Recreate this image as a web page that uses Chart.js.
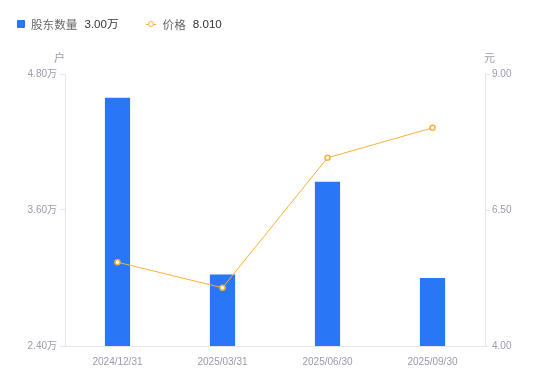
<!DOCTYPE html>
<html lang="zh">
<head>
    <meta charset="UTF-8">
    <title>股东数量与价格</title>
    <script src="https://cdn.jsdelivr.net/npm/chart.js"></script>
    <style>
        body {
            margin: 0;
            background: #fff;
            font-family: 'Liberation Sans', 'Noto Sans CJK SC', sans-serif;
        }

        .wrap {
            position: relative;
            width: 550px;
            height: 381px;
        }

        .legend {
            position: absolute;
            top: 16px;
            left: 17px;
            display: flex;
            align-items: center;
            font-size: 11.6px;
            line-height: 16px;
        }

        .legend .item {
            display: flex;
            align-items: center;
            margin-right: 27px;
        }

        .legend .name {
            color: #666;
            font-family: 'Noto Sans CJK SC', sans-serif;
        }

        .legend .val {
            color: #333;
            margin-left: 7px;
        }

        .sq {
            width: 8px;
            height: 8px;
            background: #2777f6;
            border-radius: 1px;
            margin-right: 6px;
        }

        .ln {
            position: relative;
            width: 10px;
            height: 1px;
            background: #f7b13a;
            margin-right: 7px;
        }

        .ln::after {
            content: "";
            position: absolute;
            left: 2px;
            top: -3px;
            width: 4px;
            height: 4px;
            border: 1.5px solid #f7b13a;
            border-radius: 50%;
            background: #fff;
        }

        .unit {
            position: absolute;
            top: 49px;
            font-size: 11px;
            color: #999aab;
            font-family: 'Noto Sans CJK SC', sans-serif;
        }

        canvas {
            position: absolute;
            top: 0;
            left: 0;
        }
    </style>
</head>
<body>
    <div class="wrap">
        <canvas id="chart" width="550" height="381"></canvas>
        <div class="legend">
            <div class="item"><span class="sq"></span><span class="name">股东数量</span><span class="val" id="v1"></span></div>
            <div class="item"><span class="ln"></span><span class="name">价格</span><span class="val" id="v2"></span></div>
        </div>
        <div class="unit" style="left:54px">户</div>
        <div class="unit" style="left:484px">元</div>
    </div>

    <script>
        const dates = ["2024/12/31", "2025/03/31", "2025/06/30", "2025/09/30"];
        const holders = [4.59, 3.03, 3.85, 3.00];   // 万户
        const prices = [5.54, 5.07, 7.46, 8.01];    // 元
        const holderTicks = [2.4, 4.8, 1.2];        // min, max, step
        const priceTicks = [4, 9, 2.5];

        const tickColor = '#999aab';
        const lineColor = '#e6e6ea';

        document.getElementById('v1').textContent = holders[holders.length - 1].toFixed(2) + '万';
        document.getElementById('v2').textContent = prices[prices.length - 1].toFixed(3);

        new Chart(document.getElementById('chart'), {
            data: {
                labels: dates,
                datasets: [
                    {
                        type: 'line',
                        label: '价格',
                        data: prices,
                        yAxisID: 'y1',
                        borderColor: '#f7b13a',
                        borderWidth: 1,
                        pointRadius: 2.5,
                        pointBorderWidth: 1.5,
                        pointBackgroundColor: '#fff',
                        pointBorderColor: '#f7b13a',
                        tension: 0,
                        order: 1
                    },
                    {
                        type: 'bar',
                        label: '股东数量',
                        data: holders,
                        yAxisID: 'y',
                        backgroundColor: '#2777f6',
                        barPercentage: 0.24,
                        categoryPercentage: 1,
                        order: 2
                    }
                ]
            },
            options: {
                responsive: false,
                animation: false,
                layout: { padding: { top: 74, left: 0, right: 0, bottom: 0 } },
                plugins: {
                    legend: { display: false },
                    tooltip: { enabled: false }
                },
                scales: {
                    x: {
                        grid: { display: false },
                        border: { color: lineColor },
                        ticks: {
                            color: tickColor,
                            font: { size: 10, family: 'Liberation Sans' },
                            padding: 2,
                            maxRotation: 0
                        },
                        afterFit: s => { s.height = 35; }
                    },
                    y: {
                        position: 'left',
                        min: holderTicks[0],
                        max: holderTicks[1],
                        grid: { drawOnChartArea: false, tickLength: 5, color: lineColor },
                        border: { color: lineColor },
                        ticks: {
                            stepSize: holderTicks[2],
                            color: tickColor,
                            font: { size: 10, family: "'Liberation Sans', 'Noto Sans CJK SC'" },
                            padding: 3,
                            callback: v => v.toFixed(2) + '万'
                        },
                        afterFit: s => { s.width = 65; }
                    },
                    y1: {
                        position: 'right',
                        min: priceTicks[0],
                        max: priceTicks[1],
                        grid: { drawOnChartArea: false, tickLength: 5, color: lineColor },
                        border: { color: lineColor },
                        ticks: {
                            stepSize: priceTicks[2],
                            color: tickColor,
                            font: { size: 10, family: 'Liberation Sans' },
                            padding: 2,
                            callback: v => v.toFixed(2)
                        },
                        afterFit: s => { s.width = 65; }
                    }
                }
            }
        });
    </script>
</body>
</html>
